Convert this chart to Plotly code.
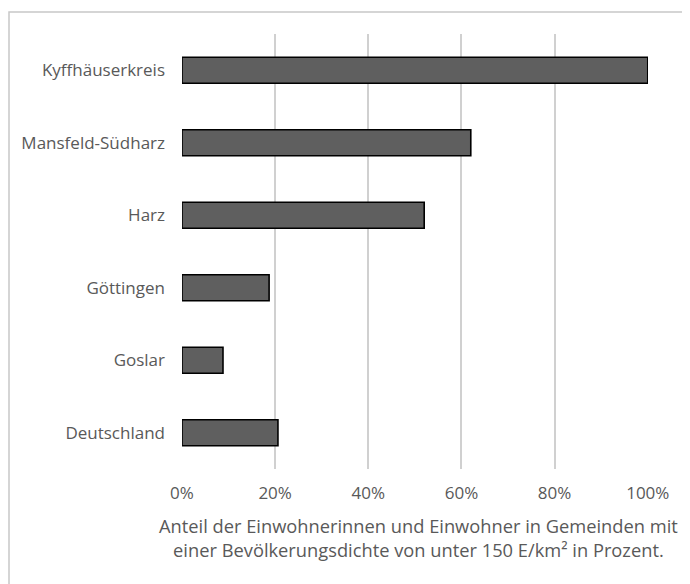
import plotly.graph_objects as go

categories = ["Kyffhäuserkreis", "Mansfeld-Südharz", "Harz", "Göttingen", "Goslar", "Deutschland"]
values = [1.00, 0.62, 0.52, 0.187, 0.088, 0.206]
tick_vals = [0, 0.2, 0.4, 0.6, 0.8, 1.0]
tick_text = ["0%", "20%", "40%", "60%", "80%", "100%"]
x_title = "Anteil der Einwohnerinnen und Einwohner in Gemeinden mit<br>einer Bevölkerungsdichte von unter 150 E/km² in Prozent."

FONT = "Open Sans, Noto Sans, sans-serif"
TXT = "#595959"

# figure is offset 8px by the page body margin; margins compensate
L, T, R, B = 174, 26, 50, 123
PW, PH = 690 - L - R, 584 - T - B

fig = go.Figure(go.Bar(
    y=categories, x=values, orientation="h",
    marker=dict(color="#5f5f5f", line=dict(color="#000000", width=1.6)),
    width=0.36,
))

fig.update_layout(
    width=690, height=584,
    margin=dict(l=L, r=R, t=T, b=B),
    paper_bgcolor="white", plot_bgcolor="white",
    showlegend=False,
    font=dict(family=FONT, color=TXT, size=17),
    shapes=[dict(type="rect", xref="paper", yref="paper",
                 x0=(1 - L) / PW, x1=(720 - L) / PW, y0=-(B + 40) / PH, y1=1 + (T - 4) / PH,
                 line=dict(color="#c8c8c8", width=1.5), fillcolor="rgba(0,0,0,0)", layer="below")],
    annotations=[dict(text=x_title, xref="paper", yref="paper",
                      x=(410 - L) / PW, y=-(529 - (T + PH)) / PH,
                      xanchor="center", yanchor="middle", showarrow=False,
                      font=dict(size=18.3, color=TXT, family=FONT), align="center")],
)
fig.update_xaxes(
    range=[0, 1.0005], tickvals=tick_vals, ticktext=tick_text,
    showgrid=True, gridcolor="#d0d0d0", gridwidth=1.5,
    zeroline=False, showline=False,
    tickfont=dict(size=17, color=TXT), ticklabelstandoff=12,
    automargin=False,
)
fig.update_yaxes(
    categoryorder="array", categoryarray=categories[::-1],
    showgrid=False, zeroline=False, showline=False,
    tickfont=dict(size=17, color=TXT), ticklabelstandoff=16,
    automargin=False,
)

fig.write_html("out.html")
